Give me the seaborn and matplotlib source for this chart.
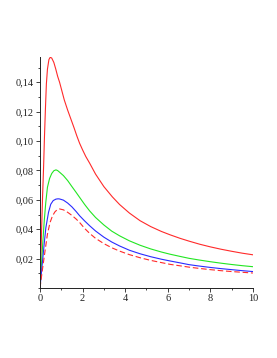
import matplotlib
matplotlib.use("Agg")
import matplotlib.pyplot as plt
import matplotlib.ticker as mticker
import seaborn as sns

# values
red_x = [0, 0.04, 0.08, 0.12, 0.17, 0.21, 0.26, 0.3, 0.35, 0.42, 0.48, 0.55, 0.65, 0.74, 0.83,
         0.92, 1.03, 1.14, 1.3, 1.45, 1.6, 1.73, 1.86, 2.0, 2.15, 2.33, 2.61, 3.0, 3.4, 3.74,
         4.2, 4.7, 5.2, 5.7, 6.11, 6.58, 7.0, 7.5, 8.0, 8.5, 9.0, 9.5, 10]
red_y = [0, 0.021, 0.042, 0.062, 0.083, 0.103, 0.124, 0.139, 0.149, 0.1555, 0.157, 0.1565,
         0.1535, 0.149, 0.144, 0.140, 0.134, 0.128, 0.121, 0.115, 0.109, 0.1035, 0.0985, 0.094,
         0.0895, 0.0850, 0.0775, 0.0690, 0.0620, 0.0568, 0.0510, 0.0458, 0.0418, 0.0385, 0.0362,
         0.0338, 0.0319, 0.0298, 0.0280, 0.0264, 0.0250, 0.0237, 0.0226]

green_x = [0, 0.05, 0.1, 0.15, 0.2, 0.27, 0.35, 0.45, 0.55, 0.65, 0.75, 0.83, 0.92, 1.1, 1.3,
           1.5, 1.7, 1.86, 2.1, 2.33, 2.61, 3.0, 3.37, 3.74, 4.2, 4.7, 5.2, 5.7, 6.11, 6.58,
           7.0, 7.5, 8.0, 8.5, 9.0, 9.5, 10]
green_y = [0, 0.0118, 0.0235, 0.035, 0.0458, 0.058, 0.0686, 0.0745, 0.0779, 0.0798, 0.0804,
           0.0799, 0.0788, 0.0765, 0.0731, 0.0690, 0.0650, 0.0617, 0.0568, 0.0525, 0.0480,
           0.0429, 0.0387, 0.0355, 0.0321, 0.0291, 0.0266, 0.0245, 0.0230, 0.0215, 0.0202,
           0.0190, 0.0179, 0.0169, 0.0160, 0.0152, 0.0145]

blue_x = [0, 0.05, 0.1, 0.2, 0.275, 0.4, 0.505, 0.62, 0.75, 0.85, 0.92, 1.1, 1.3, 1.5, 1.7,
          1.86, 2.1, 2.33, 2.61, 3.0, 3.37, 3.74, 4.2, 4.7, 5.2, 5.7, 6.11, 6.58, 7.0, 7.5,
          8.0, 8.5, 9.0, 9.5, 10]
blue_y = [0, 0.008, 0.0155, 0.0305, 0.041, 0.0515, 0.057, 0.0595, 0.0605, 0.0607, 0.0606,
          0.0598, 0.0578, 0.0552, 0.0520, 0.0492, 0.0456, 0.0424, 0.0388, 0.0346, 0.0313,
          0.0286, 0.0257, 0.0233, 0.0213, 0.0196, 0.0184, 0.0171, 0.0159, 0.0149, 0.0140,
          0.0132, 0.0125, 0.0118, 0.0112]

dash_x = [0, 0.05, 0.1, 0.2, 0.35, 0.47, 0.585, 0.7, 0.8, 0.92, 1.1, 1.3, 1.5, 1.7, 1.86,
          2.1, 2.33, 2.61, 3.0, 3.37, 3.74, 4.2, 4.7, 5.2, 5.7, 6.11, 6.58, 7.0, 7.5, 8.0,
          8.5, 9.0, 9.5, 10]
dash_y = [0, 0.0055, 0.011, 0.0215, 0.0367, 0.0445, 0.049, 0.0518, 0.0532, 0.0538, 0.0532,
          0.0515, 0.0494, 0.0469, 0.0446, 0.0405, 0.0372, 0.0338, 0.0302, 0.0274, 0.0251,
          0.0227, 0.0206, 0.0188, 0.0173, 0.0161, 0.0151, 0.0142, 0.0133, 0.0125, 0.0118,
          0.0112, 0.0107, 0.0102]

x_ticks = [0, 2, 4, 6, 8, 10]
y_ticks = [0.02, 0.04, 0.06, 0.08, 0.10, 0.12, 0.14]

sns.set_style("ticks")
plt.rcParams['font.family'] = ['Liberation Serif', 'DejaVu Serif']

fig = plt.figure(figsize=(2.77, 3.58), dpi=100)
ax = fig.add_axes([0.1444, 0.1955, 0.7686, 0.6461])

sns.lineplot(x=red_x, y=red_y, ax=ax, color='#ff2a2a', lw=0.8)
sns.lineplot(x=green_x, y=green_y, ax=ax, color='#22e622', lw=0.8)
sns.lineplot(x=blue_x, y=blue_y, ax=ax, color='#2a2aff', lw=0.8)
sns.lineplot(x=dash_x, y=dash_y, ax=ax, color='#ff2a2a', lw=0.8)
ax.lines[-1].set_dashes((5, 2.5))

ax.set_xlim(0, 10)
ax.set_ylim(0, 0.1574)
ax.set_xticks(x_ticks)
ax.set_yticks(y_ticks)
ax.xaxis.set_major_formatter(mticker.FuncFormatter(lambda v, p: '%d' % v))
ax.yaxis.set_major_formatter(mticker.FuncFormatter(lambda v, p: ('%.2f' % v).replace('.', ',')))
ax.xaxis.set_minor_locator(mticker.MultipleLocator(1))
ax.yaxis.set_minor_locator(mticker.MultipleLocator(0.01))
ax.tick_params(which='major', length=3, width=0.6, labelsize=7.5, pad=1.5, colors='#222222')
ax.tick_params(which='minor', length=1.5, width=0.6)
sns.despine(ax=ax)
for s in ['left', 'bottom']:
    ax.spines[s].set_linewidth(0.7)
    ax.spines[s].set_color('#222222')

fig.savefig('out.png', dpi=100)
